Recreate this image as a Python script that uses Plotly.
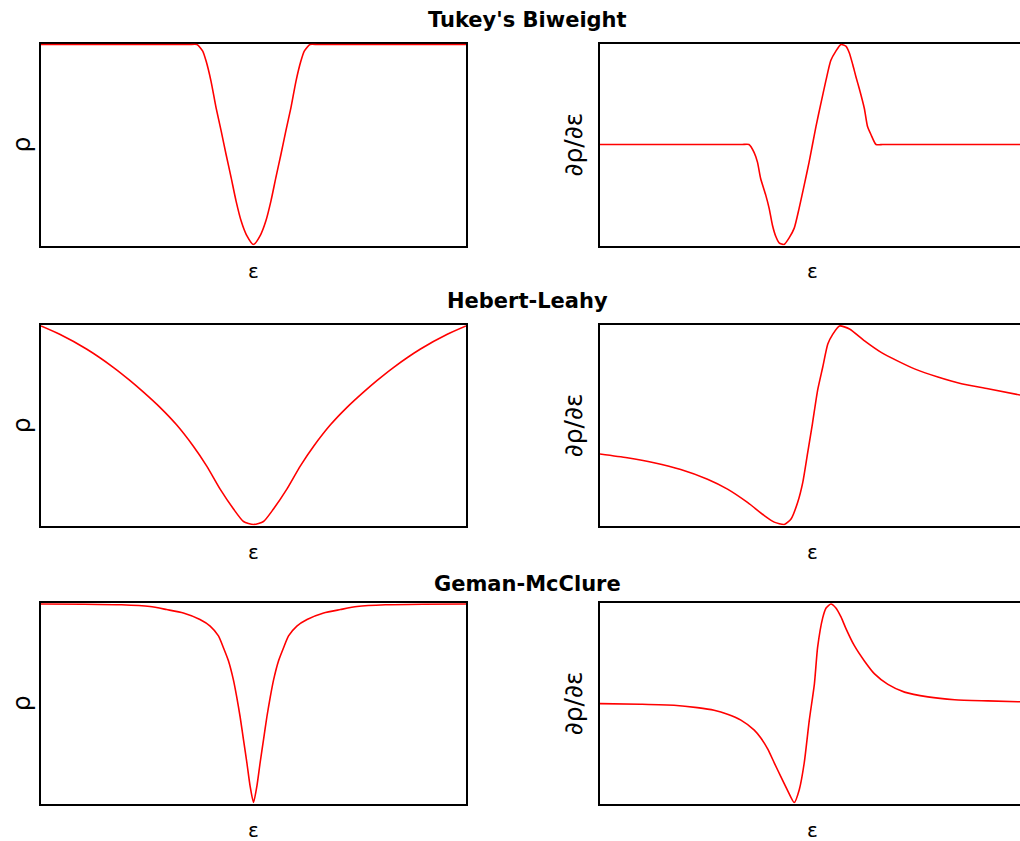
import plotly.graph_objects as go

# ---------------- data (y normalised 0..1) ----------------
tukey_rho_x = [-10, -8, -6, -4.5, -3.5, -3.0, -2.66, -2.39, -2.23, -2.0, -1.76, -1.52, -1.29, -1.05, -0.82,
               -0.58, -0.34, 0, 0.34, 0.58, 0.82, 1.05, 1.29, 1.52, 1.76, 2.0, 2.23, 2.39, 2.66, 3.0, 3.5,
               4.5, 6, 8, 10]
tukey_rho_y = [1, 1, 1, 1, 1, 1, 1, 0.967, 0.917, 0.817, 0.683, 0.567, 0.45, 0.333, 0.217,
               0.117, 0.05, 0, 0.05, 0.117, 0.217, 0.333, 0.45, 0.567, 0.683, 0.817, 0.917, 0.967, 1, 1, 1,
               1, 1, 1, 1]

tukey_psi_x = [-10, -8, -6, -4.5, -3.7, -3.3, -2.99, -2.75, -2.59, -2.44, -2.20, -2.04, -1.89, -1.73, -1.57,
               -1.34, -1.10, -0.86, -0.63, -0.39, -0.16, 0, 0.16, 0.39, 0.63, 0.86, 1.10, 1.34, 1.57, 1.73,
               1.89, 2.04, 2.20, 2.44, 2.59, 2.75, 2.99, 3.3, 3.7, 4.5, 6, 8, 10]
tukey_psi_y = [0.5, 0.5, 0.5, 0.5, 0.5, 0.5, 0.5, 0.461, 0.412, 0.33, 0.247, 0.181, 0.099, 0.041, 0.008,
               0, 0.033, 0.082, 0.181, 0.297, 0.412, 0.5, 0.588, 0.703, 0.819, 0.92, 0.967, 1, 0.992, 0.959,
               0.901, 0.84, 0.78, 0.68, 0.59, 0.55, 0.5, 0.5, 0.5, 0.5, 0.5, 0.5, 0.5]

hl_rho_x = [-10, -9.12, -7.86, -6.60, -5.82, -5.19, -4.40, -3.62, -2.83, -2.20, -1.57, -0.94, -0.47, 0,
            0.47, 0.94, 1.57, 2.20, 2.83, 3.62, 4.40, 5.19, 5.82, 6.60, 7.86, 9.12, 10]
hl_rho_y = [1, 0.958, 0.884, 0.792, 0.726, 0.668, 0.59, 0.502, 0.394, 0.294, 0.178, 0.078, 0.015, 0,
            0.015, 0.078, 0.178, 0.294, 0.394, 0.502, 0.59, 0.668, 0.726, 0.792, 0.884, 0.958, 1]

hl_psi_x = [-10, -8.72, -7.46, -6.20, -4.94, -4.00, -3.06, -2.27, -1.80, -1.33, -1.01, -0.70, -0.46,
            -0.23, 0, 0.24, 0.48, 0.72, 0.95, 1.27, 1.74, 2.45, 3.23, 4.02, 4.80, 5.90, 7.01, 8.26, 9.83]
hl_psi_y = [0.355, 0.336, 0.311, 0.277, 0.228, 0.178, 0.111, 0.045, 0.012, 0, 0.028, 0.111, 0.211,
            0.36, 0.51, 0.676, 0.792, 0.909, 0.958, 1, 0.985, 0.925, 0.867, 0.823, 0.784, 0.743, 0.709,
            0.684, 0.651]

gm_rho_x = [-10, -8.0, -6.21, -4.87, -4.09, -3.30, -2.52, -2.04, -1.65, -1.42, -1.18, -0.94, -0.79,
            -0.63, -0.47, -0.31, -0.16, 0, 0.16, 0.31, 0.47, 0.63, 0.79, 0.94, 1.18, 1.42, 1.65, 2.04,
            2.52, 3.30, 4.09, 4.87, 6.21, 8.0, 10]
gm_rho_y = [1, 0.999, 0.996, 0.987, 0.972, 0.955, 0.922, 0.889, 0.839, 0.781, 0.714, 0.615, 0.532,
            0.432, 0.316, 0.199, 0.083, 0, 0.083, 0.199, 0.316, 0.432, 0.532, 0.615, 0.714, 0.781, 0.839,
            0.889, 0.922, 0.955, 0.972, 0.987, 0.996, 0.999, 1]

gm_psi_x = [-10, -8.09, -6.52, -5.42, -4.63, -4.00, -3.37, -2.74, -2.43, -2.11, -1.80, -1.49, -1.17,
            -0.86, -0.62, -0.39, -0.15, 0.09, 0.24, 0.48, 0.64, 0.87, 1.10, 1.34, 1.58, 1.97, 2.45,
            2.92, 3.55, 4.33, 5.43, 6.69, 8.26, 9.83]
gm_psi_y = [0.498, 0.495, 0.49, 0.478, 0.465, 0.445, 0.415, 0.365, 0.325, 0.27, 0.2, 0.13, 0.06,
            0, 0.066, 0.199, 0.415, 0.598, 0.781, 0.93, 0.98, 1, 0.98, 0.935, 0.875, 0.79, 0.712,
            0.648, 0.595, 0.556, 0.532, 0.518, 0.512, 0.507]

titles = ["Tukey's Biweight", "Hebert-Leahy", "Geman-McClure"]
rho_label = "ρ"
psi_label = "∂ρ/∂ε"
x_label = "ε"

panels = [
    (tukey_rho_x, tukey_rho_y, tukey_psi_x, tukey_psi_y),
    (hl_rho_x, hl_rho_y, hl_psi_x, hl_psi_y),
    (gm_rho_x, gm_rho_y, gm_psi_x, gm_psi_y),
]

# ---------------- layout geometry ----------------
W, H = 1020, 841
row_px = [(43.5, 245.5), (325, 525.5), (603, 803.5)]
left_px = (41, 466)
right_px = (600, 1020)
title_y_px = [20, 301, 584]

def ydom(top, bot):
    return [1 - bot / H, 1 - top / H]

fig = go.Figure()
layout = dict(width=W, height=H, margin=dict(l=0, r=0, t=0, b=0),
              paper_bgcolor="white", plot_bgcolor="white", showlegend=False)
annotations = []

px_per_unit = (left_px[1] - left_px[0]) / 20.0
right_range = [-10, -10 + (right_px[1] - right_px[0]) / px_per_unit]

axis_common = dict(showgrid=False, zeroline=False, showticklabels=False, ticks="",
                   showline=True, linecolor="black", linewidth=1.6, layer="below traces")

for r, (rx, ry, px_, py_) in enumerate(panels):
    top, bot = row_px[r]
    yd = ydom(top, bot)
    pad = 1.0 / (bot - top)
    for c in range(2):
        idx = r * 2 + c + 1
        xa = "xaxis" if idx == 1 else f"xaxis{idx}"
        ya = "yaxis" if idx == 1 else f"yaxis{idx}"
        xref = "x" if idx == 1 else f"x{idx}"
        yref = "y" if idx == 1 else f"y{idx}"
        cols = left_px if c == 0 else right_px
        xd = [cols[0] / W, cols[1] / W]
        xs, ys = (rx, ry) if c == 0 else (px_, py_)
        fig.add_trace(go.Scatter(x=xs, y=ys, mode="lines", xaxis=xref, yaxis=yref,
                                 line=dict(color="#ff0000", width=1.6, shape="spline", smoothing=0.6),
                                 hoverinfo="skip"))
        layout[xa] = dict(axis_common, domain=xd, anchor=yref, mirror=True,
                          range=[-10, 10] if c == 0 else right_range)
        layout[ya] = dict(axis_common, domain=yd, anchor=xref, mirror=(c == 0),
                          range=[-pad, 1 + pad])
        # x label
        cx = (cols[0] + (left_px[1] - left_px[0]) / 2)
        annotations.append(dict(text=x_label, x=cx / W, y=1 - (bot + 26) / H, xref="paper", yref="paper",
                                showarrow=False, xanchor="center", yanchor="middle", height=18,
                                font=dict(family="DejaVu Sans", size=20, color="black")))
        # y label
        lab_x = 21 if c == 0 else 573
        annotations.append(dict(text=rho_label if c == 0 else psi_label, x=lab_x / W,
                                y=1 - ((top + bot) / 2) / H, xref="paper", yref="paper",
                                showarrow=False, textangle=-90, xanchor="center", yanchor="middle",
                                font=dict(family="DejaVu Sans", size=25, color="black")))
    annotations.append(dict(text=f"<b>{titles[r]}</b>", x=527.5 / W, y=1 - title_y_px[r] / H,
                            xref="paper", yref="paper", showarrow=False, xanchor="center",
                            yanchor="middle",
                            font=dict(family="DejaVu Sans", size=21, color="black")))

layout["annotations"] = annotations
fig.update_layout(**layout)
fig.write_html("out.html")
